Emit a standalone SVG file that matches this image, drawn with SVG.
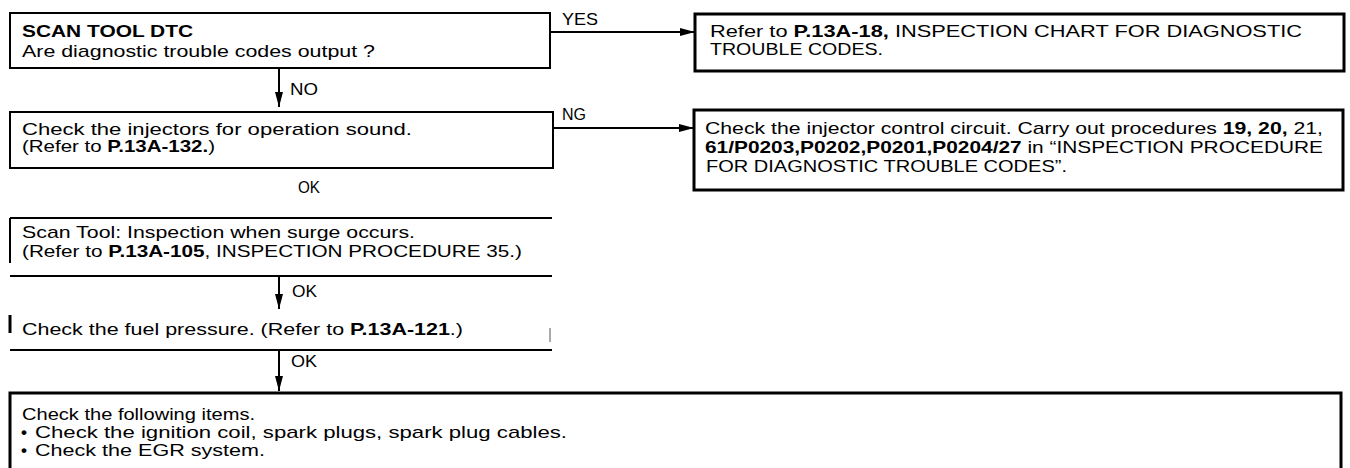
<svg xmlns="http://www.w3.org/2000/svg" width="1350" height="468" viewBox="0 0 1350 468">
<style>
.t{font-family:"Liberation Sans",Arial,sans-serif;font-size:17px;fill:#000}
.b{font-weight:bold}
.box{fill:none;stroke:#000;stroke-width:2}
.box3{fill:none;stroke:#000;stroke-width:3}
.ln{stroke:#000;stroke-width:2;fill:none}
.thin{stroke:#555;stroke-width:1;fill:none}
.con{stroke:#000;stroke-width:2;fill:none;marker-end:url(#ah)}
</style>
<defs>
<marker id="ah" viewBox="0 0 15 8" markerWidth="15" markerHeight="8" refX="15" refY="4" orient="auto" markerUnits="userSpaceOnUse">
<path d="M0,0 L15,4 L0,8 z" fill="#000"/>
</marker>
</defs>
<rect width="1350" height="468" fill="#fff"/>

<g id="connectors">
<line class="con" x1="550" y1="32" x2="695" y2="32"/>
<line class="con" x1="279" y1="68" x2="279" y2="107"/>
<line class="con" x1="553" y1="128" x2="694" y2="128"/>
<line class="con" x1="279" y1="276" x2="279" y2="309"/>
<line class="con" x1="279" y1="350" x2="279" y2="391"/>
<text class="t" x="562" y="25" textLength="36" lengthAdjust="spacingAndGlyphs">YES</text>
<text class="t" x="290" y="95" textLength="28" lengthAdjust="spacingAndGlyphs">NO</text>
<text class="t" x="562" y="120" textLength="24" lengthAdjust="spacingAndGlyphs">NG</text>
<text class="t" x="298" y="193" textLength="22" lengthAdjust="spacingAndGlyphs">OK</text>
<text class="t" x="292" y="297" textLength="25" lengthAdjust="spacingAndGlyphs">OK</text>
<text class="t" x="291" y="367" textLength="26" lengthAdjust="spacingAndGlyphs">OK</text>
</g>

<g id="node-dtc">
<rect class="box" x="10" y="13" width="540" height="55"/>
<text class="t b" x="22" y="37" textLength="171" lengthAdjust="spacingAndGlyphs">SCAN TOOL DTC</text>
<text class="t" x="22" y="57" textLength="353" lengthAdjust="spacingAndGlyphs">Are diagnostic trouble codes output ?</text>
</g>

<g id="node-refer-chart">
<rect class="box3" x="695" y="14" width="649" height="57"/>
<text class="t" x="710" y="37" textLength="592" lengthAdjust="spacingAndGlyphs">Refer to <tspan class="b">P.13A-18,</tspan> INSPECTION  CHART  FOR  DIAGNOSTIC</text>
<text class="t" x="710" y="55" textLength="173" lengthAdjust="spacingAndGlyphs">TROUBLE CODES.</text>
</g>

<g id="node-injector-sound">
<rect class="box" x="10" y="112" width="543" height="56"/>
<text class="t" x="22" y="135" textLength="390" lengthAdjust="spacingAndGlyphs">Check the injectors for operation sound.</text>
<text class="t" x="22" y="152" textLength="193" lengthAdjust="spacingAndGlyphs">(Refer to <tspan class="b">P.13A-132.</tspan>)</text>
</g>

<g id="node-injector-circuit">
<rect class="box3" x="694" y="110" width="649" height="80"/>
<text class="t" x="705" y="134" textLength="618" lengthAdjust="spacingAndGlyphs">Check the injector control circuit. Carry out procedures <tspan class="b">19, 20,</tspan> 21,</text>
<text class="t" x="705" y="153" textLength="618" lengthAdjust="spacingAndGlyphs"><tspan class="b">61/P0203,P0202,P0201,P0204/27</tspan>  in  “INSPECTION  PROCEDURE</text>
<text class="t" x="706" y="172" textLength="361" lengthAdjust="spacingAndGlyphs">FOR  DIAGNOSTIC  TROUBLE  CODES”.</text>
</g>

<g id="node-surge">
<line class="ln" x1="10" y1="218" x2="552" y2="218"/>
<line class="ln" x1="10" y1="276" x2="552" y2="276"/>
<line class="ln" x1="10" y1="218" x2="10" y2="263"/>
<text class="t" x="22" y="238" textLength="393" lengthAdjust="spacingAndGlyphs">Scan Tool: Inspection when surge occurs.</text>
<text class="t" x="22" y="257" textLength="500" lengthAdjust="spacingAndGlyphs">(Refer to <tspan class="b">P.13A-105</tspan>, INSPECTION PROCEDURE 35.)</text>
</g>

<g id="node-fuel">
<line class="ln" x1="10" y1="350" x2="552" y2="350"/>
<line class="box3" x1="10" y1="315" x2="10" y2="333"/>
<line class="thin" x1="550" y1="328" x2="550" y2="342"/>
<text class="t" x="22" y="335" textLength="441" lengthAdjust="spacingAndGlyphs">Check the fuel pressure. (Refer to <tspan class="b">P.13A-121</tspan>.)</text>
</g>

<g id="node-items">
<rect class="box3" x="10" y="393" width="1331" height="90"/>
<text class="t" x="22" y="420" textLength="233" lengthAdjust="spacingAndGlyphs">Check the following items.</text>
<text class="t b" x="21" y="438">•</text>
<text class="t" x="35" y="438" textLength="532" lengthAdjust="spacingAndGlyphs">Check the ignition coil, spark plugs, spark plug cables.</text>
<text class="t b" x="21" y="456">•</text>
<text class="t" x="35" y="456" textLength="230" lengthAdjust="spacingAndGlyphs">Check the EGR system.</text>
</g>
</svg>
